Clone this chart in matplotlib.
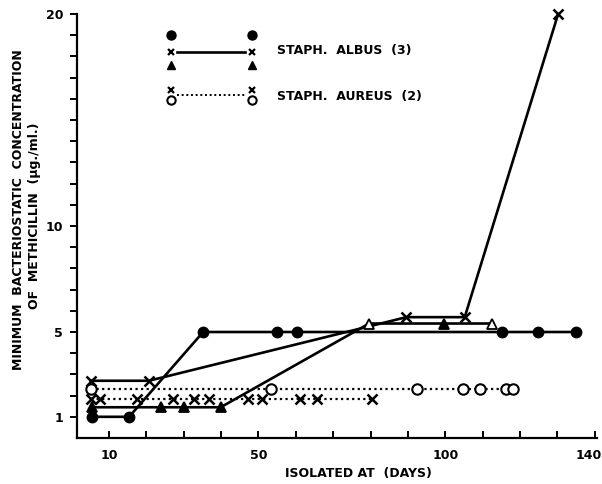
import matplotlib
matplotlib.use('Agg')
import matplotlib.pyplot as plt
from matplotlib.transforms import ScaledTranslation

# Staph. albus strains (solid lines)
circ_x = [5.5, 15.4, 35.2, 55.1, 60.2, 115.3, 124.9, 135.1]
circ_y = [1.0, 1.0, 5.0, 5.0, 5.0, 5.0, 5.0, 5.0]

xs_x = [5.1, 20.7, 89.6, 105.2, 130.2]
xs_y = [2.7, 2.7, 5.7, 5.7, 20.0]

tri_x = [5.5, 23.8, 30.2, 39.9, 79.6, 99.7, 112.4]
tri_y = [1.45, 1.45, 1.45, 1.45, 5.4, 5.4, 5.4]
tri_open = [False, False, False, False, True, False, True]

# Staph. aureus strains (dotted lines)
oo_x = [5.1, 53.3, 92.5, 104.8, 109.3, 116.2, 118.2]
oo_y = [2.3, 2.3, 2.3, 2.3, 2.3, 2.3, 2.3]

xd_x = [5.1, 7.6, 17.4, 27.2, 32.8, 36.8, 47.3, 50.9, 61.1, 65.7, 80.3]
xd_y = [1.85] * 11

xtick_pos = list(range(10, 141, 10))
xtick_lab = {10: '10', 50: '50', 100: '100', 140: '140'}
ytick_pos = list(range(1, 21))
ytick_lab = {1: '1', 5: '5', 10: '10', 20: '20'}

plt.rcParams['font.family'] = 'DejaVu Sans'
plt.rcParams['font.weight'] = 'bold'

fig = plt.figure(figsize=(6.02, 4.84), dpi=100)
ax = fig.add_axes([77 / 602, 46 / 484, 520 / 602, 424 / 484])

lw = 1.9
# solid lines
ax.plot(circ_x, circ_y, '-', color='black', lw=lw, marker='o', ms=7.5, mfc='black', mec='black', zorder=3)
ax.plot(xs_x, xs_y, '-', color='black', lw=lw, zorder=3, clip_on=False)
ax.plot(xs_x, xs_y, 'x', color='black', ms=6.5, mew=1.8, zorder=4, clip_on=False)
ax.plot(tri_x, tri_y, '-', color='black', lw=lw, zorder=3)
for x, y, o in zip(tri_x, tri_y, tri_open):
    ax.plot(x, y, '^', ms=7, mec='black', mfc='white' if o else 'black', mew=1.3, zorder=4)

# dotted lines
ax.plot(oo_x, oo_y, color='black', lw=1.6, ls=(0, (1, 1.5)), zorder=2)
ax.plot(oo_x, oo_y, 'o', ms=7.5, mfc='white', mec='black', mew=1.5, zorder=4)
ax.plot(xd_x, xd_y, color='black', lw=1.6, ls=(0, (1, 1.5)), zorder=2)
ax.plot(xd_x, xd_y, 'x', color='black', ms=6.5, mew=1.8, zorder=4)

ax.set_xlim(1.45, 140.6)
ax.set_ylim(0, 20)

ax.spines['top'].set_visible(False)
ax.spines['right'].set_visible(False)
ax.spines['left'].set_linewidth(1.6)
ax.spines['bottom'].set_linewidth(1.6)

ax.set_xticks(xtick_pos)
ax.set_xticklabels([xtick_lab.get(t, '') for t in xtick_pos], fontsize=9, fontweight='bold')
ax.set_yticks(ytick_pos)
ax.set_yticklabels([ytick_lab.get(t, '') for t in ytick_pos], fontsize=9, fontweight='bold')
ax.tick_params(axis='x', direction='in', length=5, width=1.4, pad=8)
ax.tick_params(axis='y', direction='out', length=5, width=1.4, pad=5)
# last x label sits a little to the left so it stays inside the page
last = ax.get_xticklabels()[-1]
last.set_transform(last.get_transform() + ScaledTranslation(-6 / 100, 0, fig.dpi_scale_trans))

fig.text(358 / 602, 1 - 474 / 484, 'ISOLATED AT  (DAYS)', ha='center', va='center',
         fontsize=9, fontweight='bold')
fig.text(19 / 602, 1 - 210 / 484, 'MINIMUM  BACTERIOSTATIC  CONCENTRATION',
         rotation=90, ha='center', va='center', fontsize=9, fontweight='bold')
fig.text(35 / 602, 1 - 216 / 484, 'OF  METHICILLIN  (\u00b5g./ml.)',
         rotation=90, ha='center', va='center', fontsize=9, fontweight='bold')

# legend drawn by hand (stacked markers as in the original)
T = ax.transAxes
for lx in (0.180, 0.336):
    ax.plot(lx, 0.950, 'o', ms=6.5, color='black', transform=T, clip_on=False)
    ax.plot(lx, 0.911, 'x', ms=5, mew=1.6, color='black', transform=T, clip_on=False)
    ax.plot(lx, 0.880, '^', ms=6, color='black', transform=T, clip_on=False)
    ax.plot(lx, 0.820, 'x', ms=5, mew=1.6, color='black', transform=T, clip_on=False)
    ax.plot(lx, 0.797, 'o', ms=6, mfc='white', mec='black', mew=1.5, transform=T, clip_on=False)
ax.plot([0.192, 0.324], [0.911, 0.911], '-', color='black', lw=lw, transform=T, clip_on=False)
ax.plot([0.192, 0.324], [0.809, 0.809], color='black', lw=1.4, ls=(0, (1, 1.4)), transform=T, clip_on=False)
ax.text(0.384, 0.913, 'STAPH.  ALBUS  (3)', transform=T, fontsize=9, fontweight='bold', va='center')
ax.text(0.384, 0.806, 'STAPH.  AUREUS  (2)', transform=T, fontsize=9, fontweight='bold', va='center')

plt.savefig('out.png', dpi=100)
